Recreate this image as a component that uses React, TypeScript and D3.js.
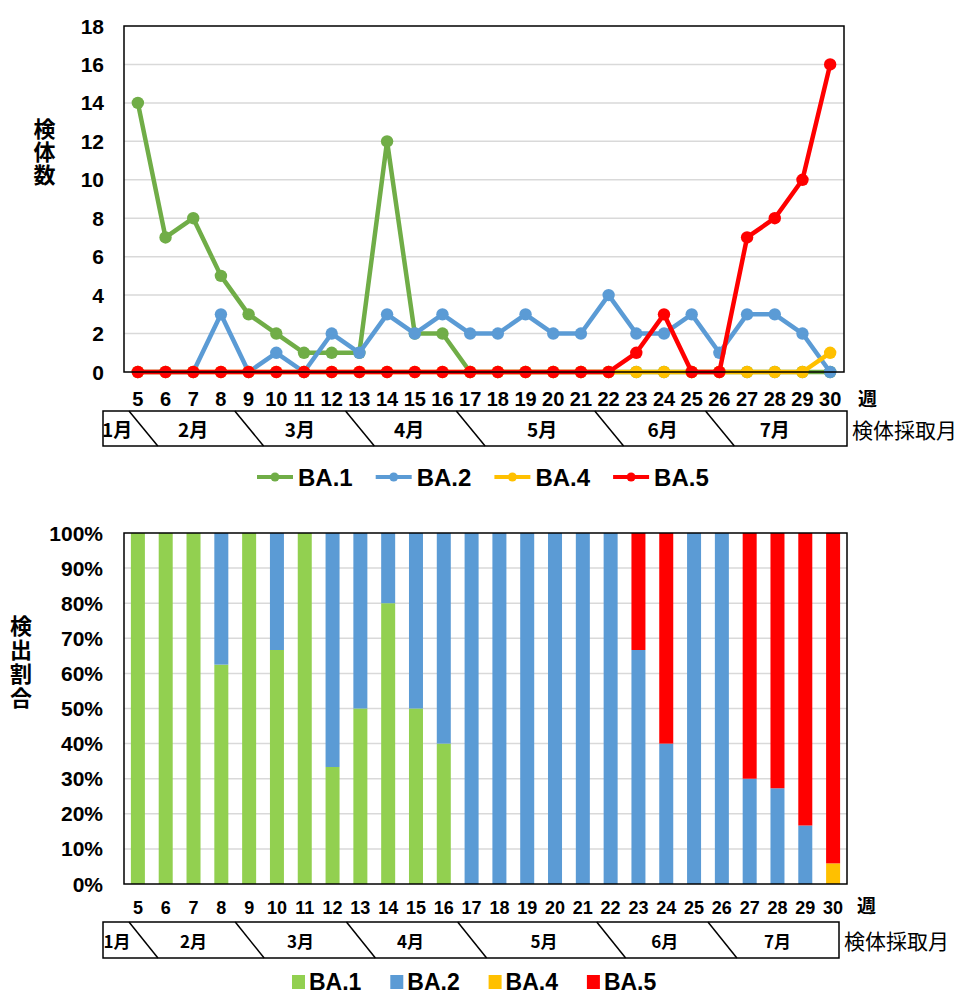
import React from 'react';
import * as d3 from 'd3';

const weeks = [5, 6, 7, 8, 9, 10, 11, 12, 13, 14, 15, 16, 17, 18, 19, 20, 21, 22, 23, 24, 25, 26, 27, 28, 29, 30];
const seriesNames = ['BA.1', 'BA.2', 'BA.4', 'BA.5'];
const ba1 = [14, 7, 8, 5, 3, 2, 1, 1, 1, 12, 2, 2, 0, 0, 0, 0, 0, 0, 0, 0, 0, 0, 0, 0, 0, 0];
const ba2 = [0, 0, 0, 3, 0, 1, 0, 2, 1, 3, 2, 3, 2, 2, 3, 2, 2, 4, 2, 2, 3, 1, 3, 3, 2, 0];
const ba4 = [0, 0, 0, 0, 0, 0, 0, 0, 0, 0, 0, 0, 0, 0, 0, 0, 0, 0, 0, 0, 0, 0, 0, 0, 0, 1];
const ba5 = [0, 0, 0, 0, 0, 0, 0, 0, 0, 0, 0, 0, 0, 0, 0, 0, 0, 0, 1, 3, 0, 0, 7, 8, 10, 16];
const countTicks = [0, 2, 4, 6, 8, 10, 12, 14, 16, 18];
const pctTicks = [0, 0.1, 0.2, 0.3, 0.4, 0.5, 0.6, 0.7, 0.8, 0.9, 1];
const months = ['1月', '2月', '3月', '4月', '5月', '6月', '7月'];
// month boundaries, in week-band units (top edge of each slanted divider)
const monthDividers = [0.18, 4, 8, 12, 17, 21];
// month label centres, in week-band units
const monthLabelPos = [-0.25, 2.5, 6.35, 10.3, 15.1, 19.45, 23.5];

const lineColors = ['#70AD47', '#5B9BD5', '#FFC000', '#FF0000'];
const barColors = ['#92D050', '#5B9BD5', '#FFC000', '#FF0000'];

const FONT = "'Liberation Sans', Arial, 'Noto Sans CJK JP', sans-serif";
const CJK = "'Noto Sans CJK JP', sans-serif";

const seriesValues = [ba1, ba2, ba4, ba5];

function MonthBox({ x, boxLeft, boxRight, top, bottom, fontSize }: any) {
  const bw = x.bandwidth();
  const x0 = x.range()[0];
  const pos = (u: number) => x0 + u * bw;
  return (
    <g>
      <rect x={boxLeft} y={top} width={boxRight - boxLeft} height={bottom - top} fill="none" stroke="#000" strokeWidth={1.5} />
      {monthDividers.map((d, i) => (
        <line key={i} x1={pos(d)} y1={top} x2={pos(d) + bw * 1.04} y2={bottom} stroke="#000" strokeWidth={1.5} />
      ))}
      {months.map((m, i) => (
        <text key={m} x={pos(monthLabelPos[i])} y={(top + bottom) / 2} textAnchor="middle" dominantBaseline="central"
          fontFamily={CJK} fontWeight="bold" fontSize={fontSize}>{m}</text>
      ))}
      <text x={boxRight + 5} y={(top + bottom) / 2} dominantBaseline="central" fontFamily={CJK} fontSize={21}>検体採取月</text>
    </g>
  );
}

function VerticalTitle({ x, yCenter, pitch, text, size }: any) {
  return (
    <text x={x} y={yCenter} textAnchor="middle" fontFamily={CJK} fontWeight="bold" fontSize={size}
      style={{ writingMode: 'vertical-rl' as any, letterSpacing: pitch - size }}>{text}</text>
  );
}

export default function App() {
  // ---------- top line chart ----------
  const t = { left: 124, right: 844, top: 26, bottom: 372 };
  const xT = d3.scaleBand<number>().domain(weeks).range([t.left, t.right]).padding(0);
  const yT = d3.scaleLinear().domain([0, 18]).range([t.bottom, t.top]);
  const cx = (w: number) => (xT(w) as number) + xT.bandwidth() / 2;
  const lineGen = d3.line<number>().x((_, i) => cx(weeks[i])).y((v) => yT(v));

  // ---------- bottom stacked chart ----------
  const b = { left: 124, right: 847, top: 533, bottom: 884 };
  const xB = d3.scaleBand<number>().domain(weeks).range([b.left, b.right]).padding(0);
  const yB = d3.scaleLinear().domain([0, 1]).range([b.bottom, b.top]);
  const rows = weeks.map((w, i) => {
    const r: any = { week: w };
    seriesNames.forEach((s, k) => (r[s] = seriesValues[k][i]));
    return r;
  });
  const stacked = d3.stack<any>().keys(seriesNames).offset(d3.stackOffsetExpand)(rows);
  const barW = 14;

  return (
    <svg width={958} height={994} style={{ position: 'absolute', left: 0, top: 0, background: '#fff' }}>
      <rect x={0} y={0} width={958} height={994} fill="#fff" />
      {/* ===== TOP CHART ===== */}
      <g>
        {countTicks.filter((v) => v > 0 && v < 18).map((v) => (
          <line key={v} x1={t.left} x2={t.right} y1={yT(v)} y2={yT(v)} stroke="#D9D9D9" strokeWidth={1.5} />
        ))}
        {countTicks.map((v) => (
          <text key={v} x={104} y={yT(v)} textAnchor="end" dominantBaseline="central" fontFamily={FONT}
            fontWeight="bold" fontSize={21}>{v}</text>
        ))}
        {seriesNames.map((s, k) => (
          <g key={s}>
            <path d={lineGen(seriesValues[k]) as string} fill="none" stroke={lineColors[k]} strokeWidth={4.5} strokeLinejoin="round" />
            {seriesValues[k].map((v, i) => (
              <circle key={i} cx={cx(weeks[i])} cy={yT(v)} r={6.2} fill={lineColors[k]} />
            ))}
          </g>
        ))}
        <rect x={t.left} y={t.top} width={t.right - t.left} height={t.bottom - t.top} fill="none" stroke="#000" strokeWidth={1.5} />
        {weeks.map((w) => (
          <text key={w} x={cx(w)} y={406} textAnchor="middle" fontFamily={FONT} fontWeight="bold" fontSize={20}>{w}</text>
        ))}
        <text x={858} y={406} fontFamily={CJK} fontWeight="bold" fontSize={19}>週</text>
        <VerticalTitle x={44.5} yCenter={152} pitch={23} text="検体数" size={22} />
        <MonthBox x={xT} boxLeft={103} boxRight={847} top={411} bottom={446} fontSize={19} />
        {/* legend */}
        {seriesNames.map((s, k) => {
          const lx = 257 + k * 118.7;
          const ly = 477;
          return (
            <g key={s}>
              <line x1={lx} x2={lx + 36} y1={ly} y2={ly} stroke={lineColors[k]} strokeWidth={4} />
              <circle cx={lx + 18} cy={ly} r={4.5} fill={lineColors[k]} />
              <text x={lx + 41} y={ly} dominantBaseline="central" fontFamily={FONT} fontWeight="bold" fontSize={24}>{s}</text>
            </g>
          );
        })}
      </g>

      {/* ===== BOTTOM CHART ===== */}
      <g>
        {pctTicks.filter((v) => v > 0 && v < 1).map((v) => (
          <line key={v} x1={b.left} x2={b.right} y1={yB(v)} y2={yB(v)} stroke="#D9D9D9" strokeWidth={1.5} />
        ))}
        {pctTicks.map((v) => (
          <text key={v} x={103} y={yB(v)} textAnchor="end" dominantBaseline="central" fontFamily={FONT}
            fontWeight="bold" fontSize={21}>{d3.format('.0%')(v)}</text>
        ))}
        {stacked.map((layer, k) => (
          <g key={layer.key} fill={barColors[k]}>
            {layer.map((d, i) => {
              const h = yB(d[0]) - yB(d[1]);
              if (!(h > 0)) return null;
              const xc = (xB(weeks[i]) as number) + xB.bandwidth() / 2;
              return <rect key={i} x={xc - barW / 2} y={yB(d[1])} width={barW} height={h} />;
            })}
          </g>
        ))}
        <rect x={b.left} y={b.top} width={b.right - b.left} height={b.bottom - b.top} fill="none" stroke="#000" strokeWidth={1.5} />
        {weeks.map((w) => (
          <text key={w} x={(xB(w) as number) + xB.bandwidth() / 2} y={914} textAnchor="middle" fontFamily={FONT}
            fontWeight="bold" fontSize={18}>{w}</text>
        ))}
        <text x={857} y={913} fontFamily={CJK} fontWeight="bold" fontSize={19}>週</text>
        <VerticalTitle x={21} yCenter={663} pitch={24} text="検出割合" size={22} />
        <MonthBox x={xB} boxLeft={103} boxRight={839} top={922} bottom={958} fontSize={17} />
        {seriesNames.map((s, k) => {
          const lx = 292 + k * 98.3;
          const ly = 982;
          return (
            <g key={s}>
              <rect x={lx} y={ly - 7} width={13} height={14} fill={barColors[k]} />
              <text x={lx + 17} y={ly} dominantBaseline="central" fontFamily={FONT} fontWeight="bold" fontSize={23}>{s}</text>
            </g>
          );
        })}
      </g>
    </svg>
  );
}
